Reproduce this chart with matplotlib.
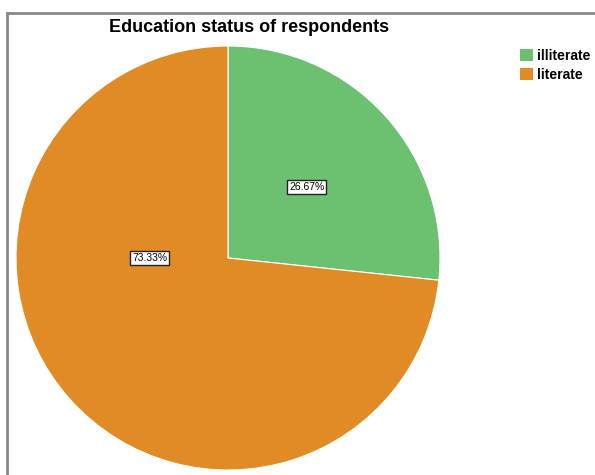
import matplotlib
matplotlib.use("Agg")
import matplotlib.pyplot as plt
from matplotlib.lines import Line2D

plt.rcParams['font.family'] = ['Liberation Sans', 'DejaVu Sans']

categories = ["illiterate", "literate"]
values = [26.67, 73.33]
colors = ["#6cc171", "#e08b25"]
title = "Education status of respondents"

W, H = 595, 475
fig = plt.figure(figsize=(W / 100, H / 100), dpi=100)

cx, cy, r = 228, 258, 212
ax = fig.add_axes([(cx - r) / W, (H - cy - r) / H, 2 * r / W, 2 * r / H])
wedges, texts, autotexts = ax.pie(
    values, colors=colors, startangle=90, counterclock=False,
    autopct=lambda p: f"{p:.2f}%", pctdistance=0.5,
    wedgeprops=dict(linewidth=0.8, edgecolor="white"),
    textprops=dict(fontsize=7.5, color="black"),
)
for t in autotexts:
    t.set_bbox(dict(boxstyle="square,pad=0.2", facecolor="white", edgecolor="#222222", linewidth=1))
# SPSS places the larger slice's label on the horizontal
autotexts[1].set_position((-0.37, 0.0))
ax.set_xlim(-1, 1)
ax.set_ylim(-1, 1)
ax.set_aspect("equal")
ax.axis("off")

fig.text(249 / W, 1 - 28 / H, title, ha="center", va="center",
         fontsize=13, fontweight="bold")

leg = fig.legend(wedges, categories, loc="upper left",
                 bbox_to_anchor=(520 / W, 1 - 49 / H), frameon=False,
                 prop=dict(size=10, weight="bold"), handlelength=0.95,
                 handleheight=0.95, handletextpad=0.25, labelspacing=0.35,
                 borderaxespad=0, borderpad=0)
for h in leg.legend_handles:
    h.set_edgecolor("none")

fig.add_artist(Line2D([7 / W, 1], [1 - 13 / H, 1 - 13 / H], color="#8a8a8a", linewidth=2, transform=fig.transFigure))
fig.add_artist(Line2D([7 / W, 7 / W], [0, 1 - 13 / H], color="#8a8a8a", linewidth=2, transform=fig.transFigure))

fig.savefig("out.png", dpi=100)
